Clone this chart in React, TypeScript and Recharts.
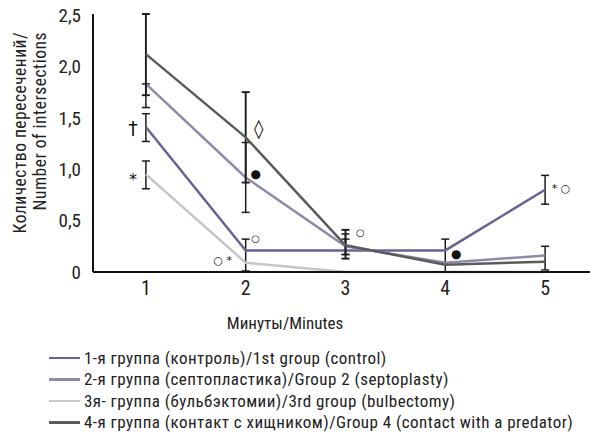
import {
  ErrorBar,
  Legend,
  Line,
  LineChart,
  ReferenceDot,
  XAxis,
  YAxis,
} from 'recharts';

const FONT = "'Liberation Sans Narrow', 'Roboto Condensed', 'DejaVu Sans Condensed', 'Liberation Sans', sans-serif";

const minutes = [1, 2, 3, 4, 5];
const group1 = [1.41, 0.21, 0.21, 0.21, 0.8];
const group2 = [1.83, 0.92, 0.25, 0.09, 0.16];
const group3 = [0.95, 0.09, 0, 0, 0];
const group4 = [2.12, 1.31, 0.26, 0.07, 0.1];

// [minus, plus]
const group1Err = [[0.14, 0.13], [0.2, 0.11], [0.04, 0.11], [0.21, 0.11], [0.14, 0.14]];
const group2Err = [[0.23, 0], [0.34, 0.34], [0.08, 0.12], null, [0.14, 0.09]];
const group3Err = [[0.14, 0.13], null, null, null, null];
const group4Err = [[0.4, 0.39], [0.44, 0.44], [0.13, 0.15], null, null];

const yTicks = [0, 0.5, 1, 1.5, 2, 2.5];
const yTitle = ['Количество пересечений/', 'Number of intersections'];
const xTitle = 'Минуты/Minutes';

const marks = [
  { x: 0.87, y: 1.4, text: '†', size: 19 },
  { x: 0.87, y: 0.9, text: '*', size: 16 },
  { x: 2.13, y: 1.4, text: '◊', size: 19 },
  { x: 2.1, y: 0.96, text: '●', size: 12 },
  { x: 2.1, y: 0.33, text: '○', size: 10 },
  { x: 1.77, y: 0.12, text: '○ *', size: 11 },
  { x: 3.15, y: 0.38, text: '○', size: 10 },
  { x: 4.11, y: 0.18, text: '●', size: 12 },
  { x: 5.16, y: 0.82, text: '* ○', size: 11 },
];

const series = [
  { key: 'g1', err: 'g1Err', label: '1-я группа (контроль)/1st group (control)', color: '#6b6194', errWidth: 1.5 },
  { key: 'g2', err: 'g2Err', label: '2-я группа (септопластика)/Group 2 (septoplasty)', color: '#8f8aab', errWidth: 1.5 },
  { key: 'g3', err: 'g3Err', label: '3я- группа (бульбэктомии)/3rd group (bulbectomy)', color: '#c6c6c6', errWidth: 1.5 },
  { key: 'g4', err: 'g4Err', label: '4-я группа (контакт с хищником)/Group 4 (contact with a predator)', color: '#5b5b5b', errWidth: 1.9 },
];

const data = minutes.map((m, i) => ({
  minute: m,
  g1: group1[i],
  g2: group2[i],
  g3: group3[i],
  g4: group4[i],
  g1Err: group1Err[i],
  g2Err: group2Err[i],
  g3Err: group3Err[i],
  g4Err: group4Err[i],
}));

function LegendBox() {
  return (
    <div
      style={{
        height: 88,
        width: 590,
        paddingLeft: 49,
        paddingTop: 3,
        boxSizing: 'border-box',
        fontFamily: FONT,
        fontSize: 17,
        letterSpacing: 0.45,
        color: '#222',
        textAlign: 'left',
      }}
    >
      {series.map((s) => (
        <div key={s.key} style={{ display: 'flex', alignItems: 'center', height: 21.5, whiteSpace: 'nowrap' }}>
          <span style={{ display: 'inline-block', width: 31, height: 2.5, background: s.color, marginRight: 4 }} />
          <span>{s.label}</span>
        </div>
      ))}
    </div>
  );
}

export default function App() {
  return (
    <div style={{ position: 'absolute', left: 0, top: 0, width: 590, height: 433, background: '#fff' }}>
      <LineChart width={590} height={433} data={data} margin={{ top: 14, right: 0, left: 0, bottom: 1 }}>
        <XAxis
          dataKey="minute"
          type="number"
          domain={[0.47, 5.45]}
          allowDataOverflow
          ticks={minutes}
          height={72}
          stroke="#111"
          strokeWidth={2}
          tickLine={false}
          tickSize={4}
          tickMargin={5}
          tick={{ fontSize: 20, fill: '#222', fontFamily: FONT }}
          label={{
            content: ({ viewBox }: any) => (
              <text x={viewBox.x + 192} y={viewBox.y + 57} textAnchor="middle" fontSize={17} fill="#222" fontFamily={FONT}>
                {xTitle}
              </text>
            ),
          }}
        />
        <YAxis
          type="number"
          domain={[0, 2.5]}
          ticks={yTicks}
          width={93}
          stroke="#111"
          strokeWidth={2}
          tickLine={false}
          tickSize={0}
          tickMargin={12}
          tickFormatter={(v: number) => (v === 0 ? '0' : v.toFixed(1).replace('.', ','))}
          tick={{ fontSize: 19, fill: '#222', fontFamily: FONT }}
          label={{
            content: () => (
              <g>
                {yTitle.map((t, i) => (
                  <text
                    key={t}
                    x={0}
                    y={0}
                    transform={`translate(${26 + i * 20}, 32) rotate(-90)`}
                    textAnchor="end"
                    fontSize={17.5}
                    letterSpacing={0.5}
                    fill="#222"
                    fontFamily={FONT}
                  >
                    {t}
                  </text>
                ))}
              </g>
            ),
          }}
        />
        <Legend verticalAlign="bottom" align="left" layout="horizontal" content={() => <LegendBox />} wrapperStyle={{ left: 0, bottom: 1 }} />
        {series.map((s) => (
          <Line
            key={s.key}
            type="linear"
            dataKey={s.key}
            stroke={s.color}
            strokeWidth={2.5}
            dot={false}
            activeDot={false}
            isAnimationActive={false}
            legendType="line"
          >
            <ErrorBar dataKey={s.err} width={4} stroke="#1a1a1a" strokeWidth={s.errWidth} direction="y" isAnimationActive={false} />
          </Line>
        ))}
        {marks.map((m, i) => (
          <ReferenceDot
            key={i}
            x={m.x}
            y={m.y}
            r={0}
            fill="none"
            stroke="none"
            label={{ value: m.text, position: 'center', fontSize: m.size, fill: '#111', fontFamily: 'DejaVu Sans' }}
          />
        ))}
      </LineChart>
    </div>
  );
}
